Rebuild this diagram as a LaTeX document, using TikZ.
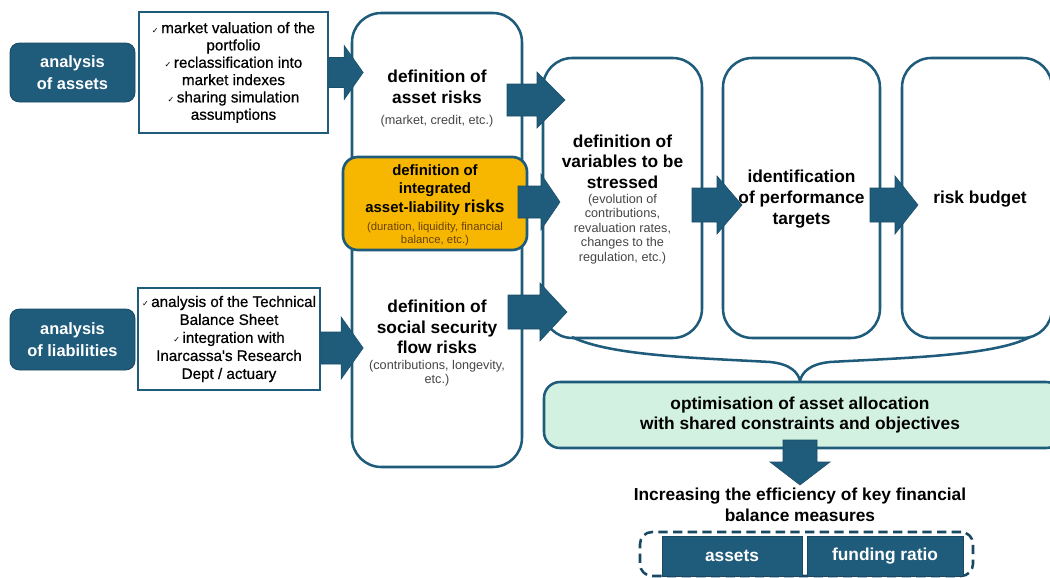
\documentclass[tikz,border=0pt]{standalone}
\usepackage{fontspec}
\setmainfont{Liberation Sans}
\newfontfamily\symfont{DejaVu Sans}
\newfontfamily\medfont[FakeBold=0.6]{Liberation Sans}
\usetikzlibrary{calc}

\definecolor{deepteal}{RGB}{31,91,122}
\definecolor{amber}{RGB}{247,183,0}
\definecolor{mint}{RGB}{210,241,224}
\definecolor{notegray}{RGB}{70,70,70}
\definecolor{notebrown}{RGB}{105,66,10}

% horizontal block arrow: start, shaft length, head length, shaft half-height, head half-height
\newcommand\blockarrow[5]{%
  \path[barrow] #1 ++(0,-#4) -- ++(#2,0) -- ++(0,#4-#5) -- ++(#3,#5)
    -- ++(-#3,#5) -- ++(0,#4-#5) -- ++(-#2,0) -- cycle;}
\newcommand\chk{{\symfont\fontsize{6}{6}\selectfont ✓}\,}

\begin{document}
\begin{tikzpicture}[x=0.75pt,y=-0.75pt,
  column/.style={draw=deepteal, line width=1.9pt, rounded corners=22pt, fill=white, inner sep=0},
  darkbox/.style={fill=deepteal, draw=deepteal!80!black, line width=0.6pt, rounded corners=7pt,
    text=white, inner sep=0, align=center, font=\bfseries\fontsize{12.3}{16}\selectfont},
  listbox/.style={draw=deepteal, line width=1.8pt, fill=white, inner sep=0},
  listtext/.style={align=center, font=\medfont\fontsize{11.4}{13}\selectfont},
  title/.style={align=center, font=\bfseries\fontsize{13}{15.5}\selectfont},
  note/.style={align=center, text=notegray, font=\fontsize{9.5}{10.9}\selectfont},
  barrow/.style={fill=deepteal, draw=deepteal!85!black, line width=0.4pt}]

\useasboundingbox (0,0) rectangle (1050,578);
\fill[white] (0,0) rectangle (1050,578);

% ---- left inputs ----
\node[darkbox, minimum width=125*0.75pt, minimum height=59*0.75pt] (assetsin) at (72.5,72.5) {analysis\\of assets};
\node[darkbox, minimum width=125*0.75pt, minimum height=61*0.75pt] (liabin) at (72.5,339.5) {analysis\\of liabilities};

\node[listbox, minimum width=189*0.75pt, minimum height=121*0.75pt] (list1) at (233.5,72.5) {};
\node[listtext] (list1txt) at (list1) {\chk market valuation of the\\portfolio\\\chk reclassification into\\market indexes\\\chk sharing simulation\\assumptions};

\node[listbox, minimum width=182*0.75pt, minimum height=102*0.75pt] (list2) at (229,339) {};
\node[listtext, font=\medfont\fontsize{11.4}{13.5}\selectfont] (list2txt) at (list2) {\chk analysis of the Technical\\Balance Sheet\\\chk integration with\\Inarcassa's Research\\Dept / actuary};

% ---- process columns ----
\node[column, minimum width=170*0.75pt, minimum height=454*0.75pt] (col1) at (437,240) {};
\node[column, minimum width=159*0.75pt, minimum height=280*0.75pt] (col2) at (622.5,198) {};
\node[column, minimum width=157*0.75pt, minimum height=280*0.75pt] (col3) at (801.5,198) {};
\node[column, minimum width=150*0.75pt, minimum height=280*0.75pt] (col4) at (977,198) {};

\node[fill=amber, draw=deepteal, line width=2pt, rounded corners=11pt, inner sep=0,
  minimum width=184*0.75pt, minimum height=93*0.75pt] (integ) at (435,203.5) {};

% ---- column texts ----
\node[title] (t1) at (437,87) {definition of\\asset risks};
\node[note] (n1) at (437,121) {(market, credit, etc.)};

\node[align=center, font=\bfseries\fontsize{11.2}{14}\selectfont] (t2) at (435,190)
  {definition of\\integrated\\asset-liability {\fontsize{13}{14}\selectfont risks}};
\node[note, text=notebrown, font=\fontsize{8.5}{9.4}\selectfont] (n2) at (435,234)
  {(duration, liquidity, financial\\balance, etc.)};

\node[title] (t3) at (437,327) {definition of\\social security\\flow risks};
\node[note] (n3) at (437,373) {(contributions, longevity,\\etc.)};

\node[title] (t4) at (622.5,161.5) {definition of\\variables to be\\stressed};
\node[note] (n4) at (622.5,229) {(evolution of\\contributions,\\revaluation rates,\\changes to the\\regulation, etc.)};

\node[title] (t5) at (801.5,199) {identification\\of performance\\targets};
\node[title] (t6) at (980,199) {risk budget};

% ---- brace gathering the three right columns ----
\draw[deepteal, line width=1.9pt]
  (572,337) .. controls (610,356) and (700,358) .. (770,362)
  .. controls (790,364) and (798,372) .. (800,381)
  .. controls (802,372) and (810,364) .. (830,362)
  .. controls (900,358) and (995,356) .. (1030,337);

% ---- optimisation and result ----
\node[fill=mint, draw=deepteal, line width=1.9pt, rounded corners=12pt, inner sep=0,
  minimum width=518*0.75pt, minimum height=66*0.75pt] (optim) at (803,415) {};
\node[title] (t7) at (800,415) {optimisation of asset allocation\\with shared constraints and objectives};

\node[title] (t8) at (800,505) {Increasing the efficiency of key financial\\balance measures};

\node[draw=deepteal!80!black, dashed, dash pattern=on 7pt off 4pt, line width=1.9pt,
  rounded corners=9pt, inner sep=0, minimum width=333*0.75pt, minimum height=44*0.75pt] (measures) at (806.5,554) {};
\node[darkbox, rounded corners=0pt, font=\bfseries\fontsize{13}{15}\selectfont,
  minimum width=140*0.75pt, minimum height=40*0.75pt] (assetsout) at (732,556) {assets};
\node[darkbox, rounded corners=0pt, font=\bfseries\fontsize{13}{15}\selectfont,
  minimum width=156*0.75pt, minimum height=40*0.75pt] (funding) at (885,556) {funding ratio};

% ---- block arrows ----
\blockarrow{(list1.east)}{15}{19}{15}{27}
\blockarrow{($(list2.east)+(0,9)$)}{20}{22}{16}{31}
\coordinate (c1a) at (507,100);
\coordinate (c1b) at (518,202);
\coordinate (c1c) at (508,312);
\blockarrow{(c1a)}{30}{28}{16}{28}
\blockarrow{(c1b)}{23}{19}{16}{28}
\blockarrow{(c1c)}{32}{27}{17}{29}
\coordinate (c2) at (692,205);
\coordinate (c3) at (870,205);
\blockarrow{(c2)}{25}{25}{17}{29}
\blockarrow{(c3)}{25}{23}{17}{29}
\coordinate (dn) at (800,440);
\path[barrow] (dn) ++(-17,0) -- ++(0,22) -- ++(-13,0) -- ++(30,23) -- ++(30,-23)
  -- ++(-13,0) -- ++(0,-22) -- cycle;
\end{tikzpicture}
\end{document}
